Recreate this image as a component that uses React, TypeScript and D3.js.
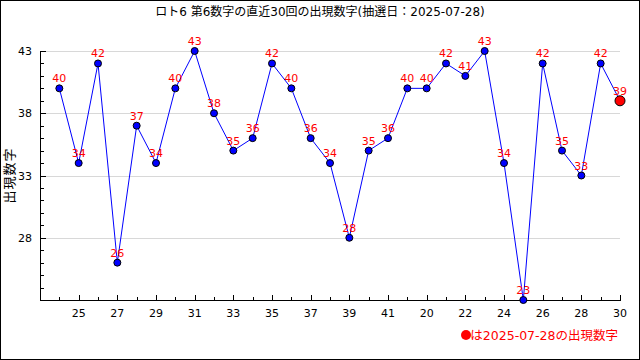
import * as d3 from "d3";
import { useEffect, useRef } from "react";

const title = "ロト6 第6数字の直近30回の出現数字(抽選日：2025-07-28)";
const yTitle = "出現数字";
const legendText = "は2025-07-28の出現数字";

// x labels (only every other one is shown)
const drawLabels = [
  "24", "25", "26", "27", "28", "29", "30", "31", "32", "33",
  "34", "35", "36", "37", "38", "39", "40", "41", "42", "20",
  "21", "22", "23", "24", "25", "26", "27", "28", "29", "30",
];
const numbers = [
  40, 34, 42, 26, 37, 34, 40, 43, 38, 35,
  36, 42, 40, 36, 34, 28, 35, 36, 40, 40,
  42, 41, 43, 34, 23, 42, 35, 33, 42, 39,
];
const yTicks = [28, 33, 38, 43];

const W = 640;
const H = 360;
const FONT = "'DejaVu Sans', 'Noto Sans CJK JP', sans-serif";

export default function App() {
  const ref = useRef<SVGSVGElement>(null);

  useEffect(() => {
    const svg = d3.select(ref.current);
    svg.selectAll("*").remove();

    const left = 40;
    const right = 620;
    const top = 51;
    const bottom = 300;
    const idx = numbers.map((_, i) => i);

    const x = d3
      .scalePoint<number>()
      .domain(idx)
      .range([left + (right - left) / 30, right]);
    const y = d3.scaleLinear().domain([23, 43]).range([bottom, top]);

    svg
      .append("rect")
      .attr("x", 0.5)
      .attr("y", 0.5)
      .attr("width", W - 1)
      .attr("height", H - 1)
      .attr("fill", "white")
      .attr("stroke", "black");

    svg
      .append("text")
      .attr("x", 320)
      .attr("y", 16)
      .attr("text-anchor", "middle")
      .attr("font-size", 12)
      .attr("font-family", FONT)
      .text(title);

    // grid
    svg
      .append("g")
      .selectAll("line")
      .data(yTicks)
      .enter()
      .append("line")
      .attr("x1", left)
      .attr("x2", right)
      .attr("y1", (d) => Math.round(y(d)) + 0.5)
      .attr("y2", (d) => Math.round(y(d)) + 0.5)
      .attr("stroke", "#d8d8d8");

    // y axis
    const yAxis = svg.append("g").attr("font-family", FONT);
    yAxis
      .append("line")
      .attr("x1", left + 0.5)
      .attr("x2", left + 0.5)
      .attr("y1", top)
      .attr("y2", bottom + 0.5)
      .attr("stroke", "black");
    yAxis
      .selectAll("line.minor")
      .data(d3.range(23, 44))
      .enter()
      .append("line")
      .attr("class", "minor")
      .attr("x1", left)
      .attr("x2", (d) => (yTicks.includes(d) ? left + 6 : left + 4))
      .attr("y1", (d) => Math.round(y(d)) + 0.5)
      .attr("y2", (d) => Math.round(y(d)) + 0.5)
      .attr("stroke", "black");
    yAxis
      .selectAll("text")
      .data(yTicks)
      .enter()
      .append("text")
      .attr("x", 32)
      .attr("y", (d) => y(d) + 4)
      .attr("text-anchor", "end")
      .attr("font-size", 11)
      .text((d) => d);

    svg
      .append("text")
      .attr("transform", `translate(14,${(top + bottom) / 2}) rotate(-90)`)
      .attr("text-anchor", "middle")
      .attr("font-size", 13)
      .attr("letter-spacing", 1)
      .attr("font-family", FONT)
      .text(yTitle);

    // x axis
    const xAxis = svg.append("g").attr("font-family", FONT);
    xAxis
      .append("line")
      .attr("x1", left)
      .attr("x2", right + 1)
      .attr("y1", bottom + 0.5)
      .attr("y2", bottom + 0.5)
      .attr("stroke", "black");
    xAxis
      .selectAll("line.tick")
      .data(idx)
      .enter()
      .append("line")
      .attr("class", "tick")
      .attr("x1", (d) => Math.round(x(d)!) + 0.5)
      .attr("x2", (d) => Math.round(x(d)!) + 0.5)
      .attr("y1", bottom)
      .attr("y2", (d) => (d % 2 === 1 ? bottom - 5 : bottom - 3))
      .attr("stroke", "black");
    xAxis
      .selectAll("text")
      .data(idx.filter((d) => d % 2 === 1))
      .enter()
      .append("text")
      .attr("x", (d) => x(d)!)
      .attr("y", 317)
      .attr("text-anchor", "middle")
      .attr("font-size", 11)
      .text((d) => drawLabels[d]);

    // line
    const line = d3
      .line<number>()
      .x((_, i) => x(i)!)
      .y((d) => y(d));
    svg
      .append("path")
      .datum(numbers)
      .attr("d", line)
      .attr("fill", "none")
      .attr("stroke", "#0000ff")
      .attr("stroke-width", 1);

    const last = numbers.length - 1;
    svg
      .append("g")
      .selectAll("circle")
      .data(numbers)
      .enter()
      .append("circle")
      .attr("cx", (_, i) => x(i)!)
      .attr("cy", (d) => y(d))
      .attr("r", (_, i) => (i === last ? 5 : 3.5))
      .attr("fill", (_, i) => (i === last ? "#ff0000" : "#0000ff"))
      .attr("stroke", "black");

    svg
      .append("g")
      .selectAll("text")
      .data(numbers)
      .enter()
      .append("text")
      .attr("x", (_, i) => x(i)!)
      .attr("y", (d) => y(d) - 6)
      .attr("text-anchor", "middle")
      .attr("font-size", 11)
      .attr("font-family", FONT)
      .attr("fill", "#ff0000")
      .text((d) => d);

    // legend
    svg
      .append("circle")
      .attr("cx", 466)
      .attr("cy", 335)
      .attr("r", 5)
      .attr("fill", "#ff0000");
    svg
      .append("text")
      .attr("x", 618)
      .attr("y", 340)
      .attr("text-anchor", "end")
      .attr("font-size", 12.5)
      .attr("font-family", FONT)
      .attr("fill", "#ff0000")
      .text(legendText);
  }, []);

  return (
    <svg
      ref={ref}
      width={W}
      height={H}
      style={{ position: "absolute", left: 0, top: 0 }}
    />
  );
}
